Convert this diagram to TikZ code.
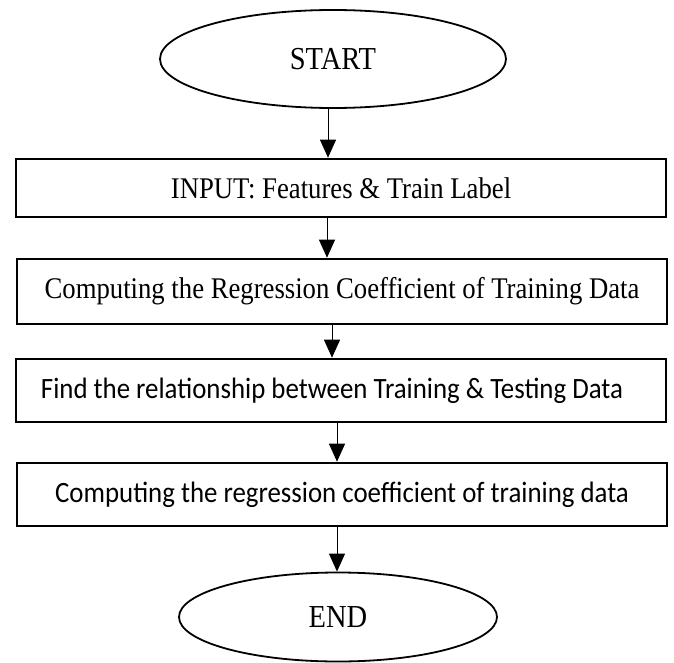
\documentclass[tikz,border=0pt]{standalone}
\usepackage{fontspec}
\newfontfamily\tmsfont[FakeStretch=0.89]{Liberation Serif}
\newfontfamily\calfont[FakeStretch=0.91]{Carlito}
\usetikzlibrary{shapes.geometric,arrows.meta,calc}
\begin{document}
\begin{tikzpicture}[x=1pt,y=-1pt,
  term/.style={ellipse, draw=black, line width=1.8pt, inner sep=0pt},
  procbox/.style={rectangle, draw=black, line width=2.6pt, minimum width=650pt, inner sep=0pt},
  arr/.style={-{Triangle[length=18pt,width=16pt]}, line width=1pt, black},
  termtext/.style={font=\tmsfont\fontsize{32}{35}\selectfont},
  serif/.style={font=\tmsfont\fontsize{30}{33}\selectfont},
  sans/.style={font=\calfont\fontsize{29.5}{32}\selectfont}]
\useasboundingbox (0,0) rectangle (674,663);
\node[term, termtext, minimum width=346pt, minimum height=98pt] (start) at (333,59) {START};
\node[procbox, serif, minimum height=58pt] (b1) at (341,188) {INPUT: Features \& Train Label};
\node[procbox, serif, minimum height=65pt] (b2) at (342,291.5) {Computing the Regression Coefficient of Training Data};
\node[procbox, sans, minimum height=63pt] (b3) at (341,390.5) {\hspace*{-18pt}Find the relationship between Training \& Testing Data};
\node[procbox, sans, minimum height=63pt] (b4) at (342,494.5) {Computing the regression coefficient of training data};
\node[term, termtext, minimum width=318pt, minimum height=89pt] (end) at (338,617) {END};
\coordinate (x1) at (328,0);
\coordinate (x2) at (327,0);
\coordinate (x3) at (332,0);
\coordinate (x4) at (337,0);
\draw[arr] (start.south -| x1) -- (b1.north -| x1);
\draw[arr] (b1.south -| x2) -- (b2.north -| x2);
\draw[arr] (b2.south -| x3) -- (b3.north -| x3);
\draw[arr] (b3.south -| x4) -- (b4.north -| x4);
\draw[arr] (b4.south -| x4) -- (end.north -| x4);
\end{tikzpicture}
\end{document}
